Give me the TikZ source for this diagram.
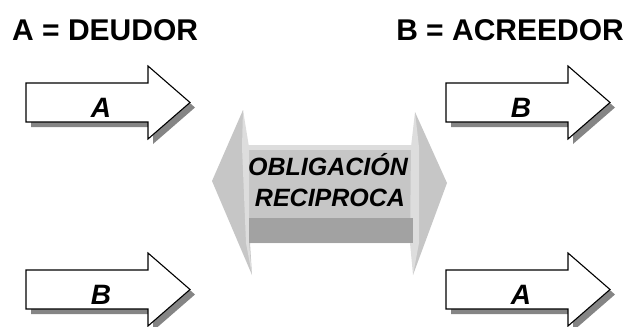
\documentclass[tikz,border=0pt]{standalone}
\usepackage{fontspec}
\setmainfont{Liberation Sans}
\usepackage{tikz}
\usetikzlibrary{positioning}

\definecolor{facegray}{HTML}{C6C6C6}
\definecolor{sidegray}{HTML}{DDDDDD}
\definecolor{darkgray}{HTML}{A2A2A2}
\definecolor{shadowgray}{HTML}{858585}

\tikzset{
  arrowbox/.style={draw=black,fill=white,line width=1.1pt,line join=miter},
  arrowshadow/.style={fill=shadowgray},
  arrowlabel/.style={inner sep=0pt,anchor=base,font=\fontsize{28}{28}\selectfont\bfseries\itshape},
  heading/.style={inner sep=0pt,font=\fontsize{30}{30}\selectfont\bfseries}
}

\begin{document}
\begin{tikzpicture}[x=1pt,y=-1pt]
  \useasboundingbox (0,0) rectangle (625,327);

  % titles
  \node [heading,anchor=base west] (deudor) at (12,40) {A = DEUDOR};
  \node [heading,anchor=base east] (acreedor) at (624,40) {B = ACREEDOR};

  % four white arrows with shadow
  \foreach \x/\y/\t/\n in {26/83/A/tl, 446/83/B/tr, 26/270/B/bl, 446/270/A/br}
  {
    \begin{scope}[shift={(\x,\y)}]
      \fill [arrowshadow,shift={(5,5)}] (0,0) -- (122,0) -- (122,-17) -- (164,19.5) -- (122,56) -- (122,39) -- (0,39) -- cycle;
      \draw [arrowbox] (0,0) -- (122,0) -- (122,-17) -- (164,19.5) -- (122,56) -- (122,39) -- (0,39) -- cycle;
      \node [arrowlabel] (lab\n) at (75,34) {\t};
    \end{scope}
  }

  % central double arrow
  \fill [facegray] (212,181) -- (243,110) -- (246,147) -- (415,147) -- (415,112) -- (447,183) -- (413,275) -- (413,243) -- (250,243) -- (252,275) -- cycle;
  \fill [sidegray] (243,110) -- (249,147) -- (249,243) -- (252,275) -- (246,243) -- (242,147) -- cycle;
  \fill [sidegray] (415,112) -- (419,147) -- (419,243) -- (413,275) -- (410,243) -- (411,147) -- cycle;
  \fill [sidegray] (246,145) rectangle (415,150);
  \fill [darkgray] (249,218) rectangle (413,243);

  \node [inner sep=0pt,anchor=base,font=\fontsize{25}{25}\selectfont\bfseries\itshape] (oblig) at (328,175) {OBLIGACIÓN};
  \node [inner sep=0pt,anchor=base,font=\fontsize{25}{25}\selectfont\bfseries\itshape] (recip) at (330,206) {RECIPROCA};
\end{tikzpicture}
\end{document}
